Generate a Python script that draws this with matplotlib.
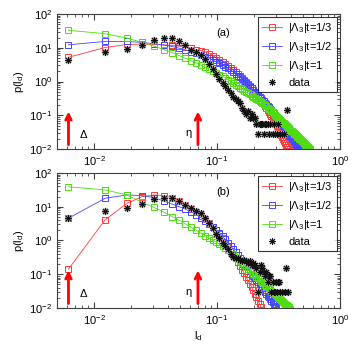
import numpy as np
import matplotlib
matplotlib.use("Agg")
import matplotlib.pyplot as plt

plt.rcParams['font.family'] = ['Liberation Sans', 'DejaVu Sans']
plt.rcParams['mathtext.default'] = 'regular'
plt.rcParams['font.size'] = 8

# bin centres l_d (one value per histogram bin)
ld = [0.0062, 0.0123, 0.0185, 0.0246, 0.0308, 0.0370, 0.0431, 0.0493, 0.0554, 0.0616,
      0.0678, 0.0739, 0.0801, 0.0862, 0.0924, 0.0986, 0.1047, 0.1109, 0.1170, 0.1232,
      0.1294, 0.1355, 0.1417, 0.1478, 0.1540, 0.1602, 0.1663, 0.1725, 0.1786, 0.1848,
      0.1910, 0.1971, 0.2033, 0.2094, 0.2156, 0.2218, 0.2279, 0.2341, 0.2402, 0.2464,
      0.2526, 0.2587, 0.2649, 0.2710, 0.2772, 0.2834, 0.2895, 0.2957, 0.3018, 0.3080,
      0.3142, 0.3203, 0.3265, 0.3326, 0.3388, 0.3450, 0.3511, 0.3573, 0.3634, 0.3696,
      0.3758, 0.3819, 0.3881, 0.3942, 0.4004, 0.4066, 0.4127, 0.4189, 0.4250, 0.4312,
      0.4374, 0.4435, 0.4497, 0.4558, 0.4620, 0.4682, 0.4743, 0.4805, 0.4866, 0.4928,
      0.4990, 0.5051, 0.5113, 0.5174, 0.5236, 0.5298, 0.5359, 0.5421, 0.5482, 0.5544,
      0.5606, 0.5667, 0.5729]

nan = np.nan

# panel (a): log10 p(l_d)
red_a = [0.72, 1.01, 1.10, 1.11, 1.10, 1.09, 1.07, 1.05, 1.02, 0.99,
         0.95, 0.92, 0.88, 0.83, 0.77, 0.71, 0.65, 0.59, 0.53, 0.47,
         0.41, 0.35, 0.29, 0.23, 0.17, 0.11, 0.05, -0.01, -0.07, -0.13,
         -0.19, -0.25, -0.31, -0.37, -0.43, -0.49, -0.55, -0.61, -0.67, -0.73,
         -0.79, -0.85, -0.91, -0.97, -1.03, -1.09, -1.15, -1.21, -1.27, -1.33,
         -1.39, -1.45, -1.51, -1.57, -1.63, -1.69, -1.75, -1.81, -1.87, -1.93,
         -1.99, -2.05]
blue_a = [1.09, 1.19, 1.19, 1.16, 1.12, 1.08, 1.04, 0.99, 0.94, 0.89,
          0.84, 0.79, 0.74, 0.69, 0.64, 0.59, 0.54, 0.49, 0.44, 0.39,
          0.34, 0.29, 0.235, 0.18, 0.125, 0.07, 0.015, -0.04, -0.095, -0.15,
          -0.20, -0.25, -0.30, -0.35, -0.40, -0.45, -0.495, -0.54, -0.585, -0.63,
          -0.675, -0.72, -0.765, -0.81, -0.855, -0.90, -0.945, -0.99, -1.035, -1.08,
          -1.118, -1.156, -1.194, -1.232, -1.27, -1.308, -1.346, -1.384, -1.422, -1.46,
          -1.498, -1.536, -1.574, -1.612, -1.65, -1.688, -1.726, -1.764, -1.802, -1.84,
          -1.878, -1.916, -1.954, -1.992, -2.03]
green_a = [1.52, 1.42, 1.29, 1.16, 1.05, 0.95, 0.86, 0.77, 0.69, 0.62,
           0.55, 0.49, 0.43, 0.37, 0.31, 0.26, 0.21, 0.16, 0.11, 0.06,
           0.01, -0.04, -0.09, -0.14, -0.18, -0.22, -0.27, -0.31, -0.34, -0.38,
           -0.42, -0.45, -0.48, -0.52, -0.55, -0.58, -0.61, -0.64, -0.67, -0.69,
           -0.73, -0.77, -0.80, -0.84, -0.87, -0.91, -0.94, -0.98, -1.01, -1.04,
           -1.07, -1.10, -1.13, -1.16, -1.19, -1.22, -1.24, -1.27, -1.30, -1.32,
           -1.35, -1.38, -1.40, -1.42, -1.45, -1.47, -1.50, -1.52, -1.54, -1.56,
           -1.59, -1.61, -1.63, -1.65, -1.67, -1.69, -1.71, -1.73, -1.75, -1.77,
           -1.79, -1.81, -1.83, -1.85, -1.87, -1.89, -1.90, -1.92, -1.94, -1.96,
           -1.98, -1.99, -2.01]
data_a = [0.65, 0.88, 0.98, 1.09, 1.24, 1.30, 1.30, 1.20, 1.07, 0.93,
          0.88, 0.78, 0.68, 0.53, 0.38, 0.22, 0.08, -0.04, -0.14, -0.24,
          -0.35, -0.45, -0.52, -0.58, -0.62, -0.78, -0.86, -0.96, -0.86, -1.08,
          -0.96, -1.08, -1.08, -1.26, -1.56, -1.26, -1.26, -1.26, -1.56, -1.26,
          -1.26, -1.26, -1.56, -1.26, nan, -1.56, -1.26, -1.56, nan, -1.56,
          -1.26, nan, -1.56, nan, -1.56, nan, -1.56, nan, nan, -0.84]

# panel (b): log10 p(l_d)
red_b = [-0.85, 0.61, 1.10, 1.30, 1.35, 1.33, 1.27, 1.18, 1.06, 0.94,
         0.83, 0.73, 0.63, 0.52, 0.41, 0.30, 0.18, 0.06, -0.06, -0.18,
         -0.30, -0.42, -0.53, -0.64, -0.75, -0.86, -0.97, -1.08, -1.18, -1.28,
         -1.38, -1.48, -1.58, -1.68, -1.78, -1.88, -1.98]
blue_b = [0.66, 1.25, 1.35, 1.33, 1.27, 1.17, 1.08, 1.00, 0.93, 0.85,
          0.77, 0.68, 0.59, 0.50, 0.41, 0.32, 0.22, 0.12, 0.03, -0.06,
          -0.16, -0.26, -0.35, -0.44, -0.53, -0.62, -0.70, -0.77, -0.84, -0.91,
          -0.98, -1.05, -1.11, -1.17, -1.23, -1.29, -1.35, -1.41, -1.47, -1.53,
          -1.58, -1.63, -1.68, -1.73, -1.78, -1.83, -1.88, -1.93, -1.98]
green_b = [1.59, 1.50, 1.35, 1.13, 0.98, 0.84, 0.71, 0.60, 0.49, 0.39,
           0.30, 0.22, 0.14, 0.07, 0.01, -0.05, -0.11, -0.17, -0.23, -0.29,
           -0.35, -0.41, -0.48, -0.54, -0.61, -0.66, -0.72, -0.78, -0.83, -0.88,
           -0.93, -0.98, -1.02, -1.07, -1.11, -1.15, -1.19, -1.23, -1.27, -1.31,
           -1.35, -1.38, -1.42, -1.45, -1.49, -1.52, -1.55, -1.59, -1.62, -1.65,
           -1.68, -1.71, -1.73, -1.76, -1.79, -1.82, -1.84, -1.87, -1.90, -1.92,
           -1.95, -1.97, -1.99, -2.02]
data_b = [0.66, 0.87, 0.97, 1.08, 1.22, 1.25, 1.25, 1.17, 1.05, 0.95,
          0.88, 0.80, 0.66, 0.51, 0.36, 0.20, 0.06, -0.06, -0.15, -0.25,
          -0.40, -0.48, -0.53, -0.53, -0.57, -0.62, -0.57, -0.62, -0.67, -0.62,
          -0.74, -0.67, -0.74, -0.82, -1.52, -0.92, -0.74, -0.82, -0.92, -1.05,
          -0.92, -1.22, -1.05, -1.05, -1.52, -1.22, -1.52, -1.52, -1.22, -1.52,
          -1.22, -1.22, -1.52, nan, -1.52, nan, nan, -1.52, -0.82, nan,
          -1.52]

labels = [r'|$\Lambda_3$|t=1/3', r'|$\Lambda_3$|t=1/2', r'|$\Lambda_3$|t=1', 'data']
colors = ['#ff3a3a', '#4646ff', '#4ddd10']

# arrow positions: Delta (bin width) and eta
delta_x = 0.0062
eta_x = 0.070

fig = plt.figure(figsize=(3.54, 3.55), dpi=100)
ax1 = fig.add_axes([0.161, 0.580, 0.7994, 0.3803])
ax2 = fig.add_axes([0.161, 0.1324, 0.7994, 0.3803])

panels = [(ax1, [red_a, blue_a, green_a], data_a, '(a)'),
          (ax2, [red_b, blue_b, green_b], data_b, '(b)')]

for ax, curves, data, tag in panels:
    for vals, c, lab in zip(curves, colors, labels):
        x = np.array(ld[:len(vals)])
        ax.plot(x, 10 ** np.array(vals), '-s', color=c, lw=0.6, ms=5,
                mfc='none', mec=c, mew=0.7, label=lab)
    xd = np.array(ld[:len(data)])
    yd = 10 ** np.array(data)
    ax.plot(xd, yd, linestyle='none', marker='o', ms=5.5, mfc='0.72',
            mec='none', alpha=0.7, zorder=4)
    ax.plot(xd, yd, linestyle='none', marker=(8, 2, 0),
            ms=5, mec='#111111', mew=0.7, color='#111111', label=labels[3], zorder=5)
    ax.set_xscale('log')
    ax.set_yscale('log')
    ax.set_xlim(0.005, 1)
    ax.set_ylim(1e-2, 1e2)
    ax.tick_params(which='both', direction='in', top=True, right=True, labelsize=8,
                   color='0.25')
    ax.tick_params(which='major', length=4)
    ax.tick_params(which='minor', length=2)
    for s in ax.spines.values():
        s.set_color('0.25')
        s.set_linewidth(0.8)
    for xa in (delta_x, eta_x):
        ax.annotate('', xy=(xa, 0.13), xytext=(xa, 0.0135),
                    arrowprops=dict(arrowstyle='->', color='red', lw=2,
                                    mutation_scale=10, shrinkA=0, shrinkB=0))
    ax.text(0.0075, 0.028, r'$\Delta$', fontsize=8, va='center', ha='left')
    ax.text(0.0586, 0.028, r'$\eta$', fontsize=8, va='center', ha='center')
    ax.text(0.588, 0.86, tag, transform=ax.transAxes, fontsize=8,
            ha='center', va='center')
    ax.set_ylabel(r'p(l$_d$)', fontsize=8, labelpad=2)
    leg = ax.legend(loc='upper right', fontsize=8, frameon=True, fancybox=False,
                    edgecolor='black', handlelength=1.8, handletextpad=0.6,
                    labelspacing=0.45, borderpad=0.35, borderaxespad=0.3)
    leg.get_frame().set_linewidth(0.8)

ax2.set_xlabel(r'l$_d$', fontsize=8, labelpad=2)

fig.savefig('out.png', dpi=100)
